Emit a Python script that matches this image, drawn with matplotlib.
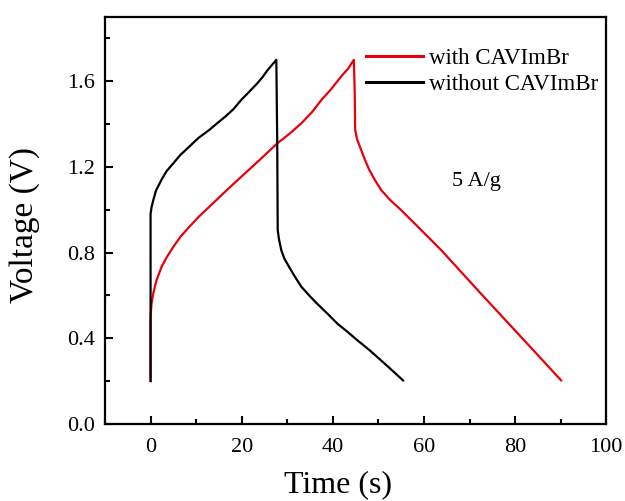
import matplotlib
matplotlib.use("Agg")
import matplotlib.pyplot as plt
from matplotlib.ticker import MultipleLocator, FormatStrFormatter

plt.rcParams['font.family'] = ['Liberation Serif', 'DejaVu Serif']

# without CAVImBr (black)
t_without = [0, 0, 0.2, 0.6, 1.2, 2.4, 3.5, 5, 6.5, 8.5, 10.5, 12.9, 14.5, 16.4, 18.2, 19.9, 21.6, 23.4, 24.6, 25.6, 26.6, 27.6,
             27.8, 27.9, 28.2, 28.7, 29.4, 30.4, 31.6, 33.1, 34.8, 36.6, 38.8, 41, 43.2, 45.4, 48, 50.6, 53, 55.4]
v_without = [0.20, 0.98, 1.01, 1.045, 1.09, 1.14, 1.18, 1.217, 1.255, 1.295, 1.335, 1.373, 1.402, 1.435, 1.47, 1.513, 1.55, 1.59, 1.62, 1.65, 1.675, 1.70,
             1.30, 0.905, 0.86, 0.81, 0.77, 0.733, 0.69, 0.64, 0.60, 0.56, 0.515, 0.468, 0.43, 0.39, 0.345, 0.296, 0.25, 0.203]

# with CAVImBr (red)
t_with = [0, 0, 0.2, 0.6, 1.3, 2.4, 3.6, 5, 6.6, 8.5, 10.6, 12.9, 16.4, 19.9, 23.8, 27.8, 30.5, 33.1, 35.4, 37.5, 39.7, 41.8, 43.4, 44.6,
          44.8, 44.9, 45.3, 46.2, 47.0, 48.0, 49.2, 50.6, 52.6, 55.0, 59.4, 63.8, 72.5, 81.3, 90.1]
v_with = [0.20, 0.50, 0.56, 0.61, 0.67, 0.733, 0.78, 0.827, 0.875, 0.92, 0.968, 1.014, 1.085, 1.154, 1.23, 1.31, 1.355, 1.404, 1.455, 1.513, 1.565, 1.622, 1.66, 1.70,
          1.55, 1.373, 1.33, 1.28, 1.235, 1.186, 1.14, 1.092, 1.045, 0.998, 0.905, 0.811, 0.608, 0.406, 0.203]

fig = plt.figure(figsize=(6.25, 5.01), dpi=100)
ax = fig.add_axes([0.168, 0.154, 0.802, 0.812])

ax.plot(t_with, v_with, color='#e8000b', lw=1.6, label='with CAVImBr')
ax.plot(t_without, v_without, color='black', lw=1.6, label='without CAVImBr')

ax.set_xlim(-10, 100)
ax.set_ylim(0, 1.9)
ax.xaxis.set_major_locator(MultipleLocator(20))
ax.xaxis.set_minor_locator(MultipleLocator(10))
ax.yaxis.set_major_locator(MultipleLocator(0.4))
ax.yaxis.set_minor_locator(MultipleLocator(0.2))
ax.yaxis.set_major_formatter(FormatStrFormatter('%.1f'))
ax.tick_params(which='major', direction='in', length=6, width=1.5, labelsize=16)
ax.tick_params(axis='x', which='major', pad=10)
ax.tick_params(axis='y', which='major', pad=7)
ax.tick_params(which='minor', direction='in', length=3.5, width=1.5)
for s in ax.spines.values():
    s.set_linewidth(1.6)

ax.set_xlabel('Time (s)', fontsize=23)
ax.xaxis.set_label_coords(0.465, -0.115)
ax.set_ylabel('Voltage (V)', fontsize=24)
ax.yaxis.set_label_coords(-0.13, 0.49)

ax.text(71.5, 1.13, '5 A/g', fontsize=16, ha='center', va='center')

leg = ax.legend(loc='upper left', bbox_to_anchor=(0.52, 0.925), frameon=False, fontsize=16.5,
                handlelength=2.5, handletextpad=0.26, labelspacing=0.22, borderaxespad=0, borderpad=0)
for h in leg.legend_handles:
    h.set_linewidth(2.2)

fig.savefig('out.png', dpi=100)
